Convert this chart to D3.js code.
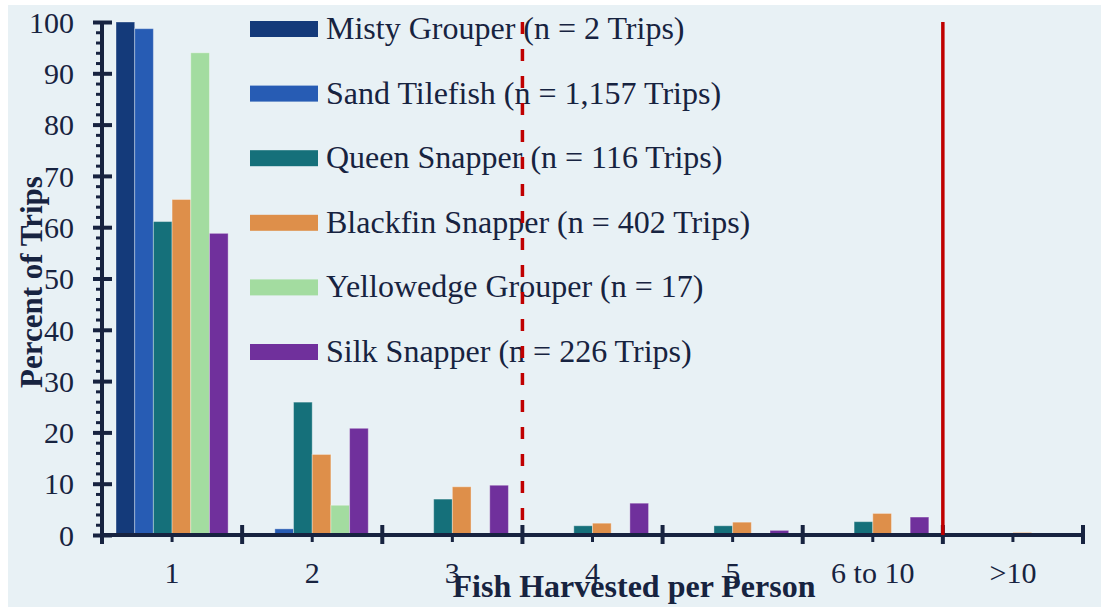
<!DOCTYPE html>
<html>
<head>
<meta charset="utf-8">
<script src="https://cdn.jsdelivr.net/npm/d3@7"></script>
<style>
  body { margin: 0; background: #ffffff; }
  #graphic { width: 1102px; height: 607px; }
  text { font-family: "Liberation Serif", "Times New Roman", serif; fill: #172340; }
</style>
</head>
<body>
<div id="graphic"></div>
<script>
// harvest per person, percent of trips by species
const categories = ["1", "2", "3", "4", "5", "6 to 10", ">10"];
const species = [
  "Misty Grouper (n = 2 Trips)",
  "Sand Tilefish (n = 1,157 Trips)",
  "Queen Snapper (n = 116 Trips)",
  "Blackfin Snapper (n = 402 Trips)",
  "Yellowedge Grouper (n = 17)",
  "Silk Snapper (n = 226 Trips)"
];
const misty      = [100, 0, 0, 0, 0, 0, 0];
const sand       = [98.7, 1.2, 0, 0, 0, 0, 0];
const queen      = [61.1, 25.9, 7.0, 1.8, 1.8, 2.6, 0];
const blackfin   = [65.4, 15.7, 9.4, 2.3, 2.5, 4.2, 0.5];
const yellowedge = [94.0, 5.8, 0, 0, 0, 0, 0];
const silk       = [58.8, 20.8, 9.7, 6.2, 0.9, 3.5, 0];
const yTicks = [0, 10, 20, 30, 40, 50, 60, 70, 80, 90, 100];

const colors = ["#143a7a", "#275cb4", "#15707a", "#de8f4a", "#a3dca0", "#70309c"];
const seriesValues = [misty, sand, queen, blackfin, yellowedge, silk];

// build rows for d3
const rows = categories.map(function(cat, i){
  return { key: cat, values: species.map(function(s, j){ return { name: s, value: seriesValues[j][i], color: colors[j] }; }) };
});

const W = 1102, H = 607;
const plotLeft = 102, plotRight = 1083, plotTop = 22, plotBottom = 535;
const ink = "#172340";

const svg = d3.select("#graphic").append("svg")
  .attr("width", W)
  .attr("height", H);

// panel background
svg.append("rect")
  .attr("x", 8).attr("y", 5)
  .attr("width", W - 9).attr("height", H - 5)
  .attr("fill", "#e8f1f5");

const x0 = d3.scaleBand()
  .domain(categories)
  .range([plotLeft, plotRight])
  .paddingInner(0)
  .paddingOuter(0);

const x1 = d3.scaleBand()
  .domain(species)
  .range([0, x0.bandwidth()])
  .paddingInner(0)
  .paddingOuter(0.75);

const y = d3.scaleLinear()
  .domain([0, 100])
  .range([plotBottom, plotTop]);

// bars
const groups = svg.append("g").attr("class", "bars")
  .selectAll("g")
  .data(rows)
  .enter()
  .append("g")
  .attr("transform", d => `translate(${x0(d.key)},0)`);

groups.selectAll("rect")
  .data(d => d.values.filter(v => v.value > 0))
  .enter()
  .append("rect")
  .attr("x", d => x1(d.name))
  .attr("y", d => y(d.value))
  .attr("width", x1.bandwidth())
  .attr("height", d => y(0) - y(d.value))
  .attr("fill", d => d.color)
  .attr("stroke", "rgba(255,255,255,0.35)")
  .attr("stroke-width", 1);

// y axis: minor ticks every 2
const yMinor = d3.axisLeft(y)
  .tickValues(d3.range(0, 101, 2).filter(v => v % 10 !== 0))
  .tickSize(6)
  .tickFormat("");
const gMinor = svg.append("g")
  .attr("transform", `translate(${plotLeft},0)`)
  .call(yMinor);
gMinor.select(".domain").remove();
gMinor.selectAll("line").attr("stroke", ink).attr("stroke-width", 3);

const yAxis = d3.axisLeft(y)
  .tickValues(yTicks)
  .tickSize(9)
  .tickPadding(19);
const gy = svg.append("g")
  .attr("transform", `translate(${plotLeft},0)`)
  .call(yAxis);
gy.select(".domain").remove();
gy.selectAll(".tick line")
  .attr("x1", 10)
  .attr("stroke", ink)
  .attr("stroke-width", 4);
gy.selectAll(".tick text")
  .style("font-size", "30px")
  .attr("fill", ink)
  .attr("dy", "0.34em");
gy.append("line")
  .attr("x1", 0).attr("x2", 0)
  .attr("y1", plotTop).attr("y2", plotBottom + 2)
  .attr("stroke", ink).attr("stroke-width", 4);

// x axis: labels and center ticks
const xAxis = d3.axisBottom(x0)
  .tickSize(7)
  .tickPadding(20);
const gx = svg.append("g")
  .attr("transform", `translate(0,${plotBottom})`)
  .call(xAxis);
gx.select(".domain").remove();
gx.selectAll(".tick line").attr("stroke", ink).attr("stroke-width", 3);
gx.selectAll(".tick text")
  .style("font-size", "30px")
  .attr("fill", ink)
  .attr("dy", "0.71em");
gx.append("line")
  .attr("x1", plotLeft).attr("x2", plotRight)
  .attr("y1", 0).attr("y2", 0)
  .attr("stroke", ink).attr("stroke-width", 4);

// boundary ticks between categories
const bounds = categories.map(c => x0(c)).concat([plotRight]);
gx.selectAll(".bound")
  .data(bounds)
  .enter()
  .append("line")
  .attr("class", "bound")
  .attr("x1", d => d).attr("x2", d => d)
  .attr("y1", -10).attr("y2", 9)
  .attr("stroke", ink)
  .attr("stroke-width", 4);

// axis titles
svg.append("text")
  .attr("transform", `translate(42, 282) rotate(-90)`)
  .attr("text-anchor", "middle")
  .style("font-size", "31px")
  .style("font-weight", "bold")
  .text("Percent of Trips");

svg.append("text")
  .attr("x", 634)
  .attr("y", 597)
  .attr("text-anchor", "middle")
  .style("font-size", "32px")
  .style("font-weight", "bold")
  .text("Fish Harvested per Person");

// legend
const legend = svg.append("g").attr("class", "legend")
  .selectAll("g")
  .data(species)
  .enter()
  .append("g")
  .attr("transform", (d, i) => `translate(250, ${29 + i * 64.6})`);

legend.append("rect")
  .attr("x", 0).attr("y", -8)
  .attr("width", 68).attr("height", 16)
  .attr("fill", (d, i) => colors[i]);

legend.append("text")
  .attr("x", 76)
  .attr("y", 10)
  .style("font-size", "32px")
  .text(d => d);

// reference lines
svg.append("line")
  .attr("x1", x0("4")).attr("x2", x0("4"))
  .attr("y1", plotTop).attr("y2", plotBottom)
  .attr("stroke", "#c00000")
  .attr("stroke-width", 3.5)
  .attr("stroke-dasharray", "12,15");

svg.append("line")
  .attr("x1", x0(">10")).attr("x2", x0(">10"))
  .attr("y1", plotTop).attr("y2", plotBottom)
  .attr("stroke", "#c00000")
  .attr("stroke-width", 3.5);
</script>
</body>
</html>
